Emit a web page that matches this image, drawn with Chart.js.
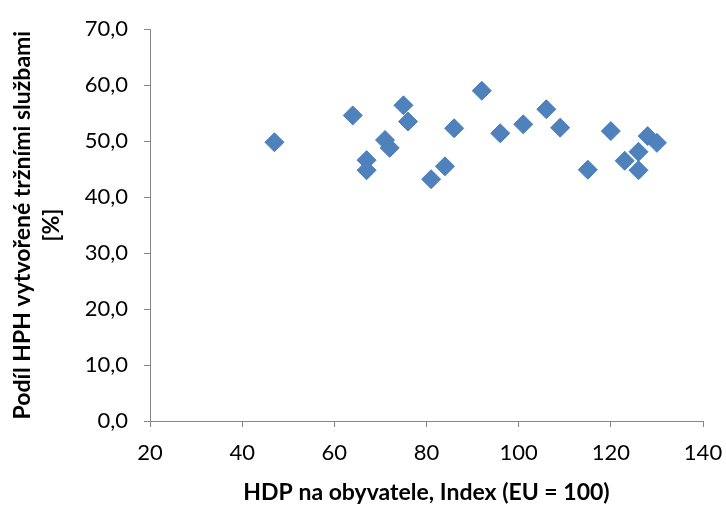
<!DOCTYPE html>
<html>
<head>
<meta charset="utf-8">
<script src="https://cdn.jsdelivr.net/npm/chart.js@4/dist/chart.umd.min.js"></script>
<style>
  html, body { margin: 0; padding: 0; background: #fff; }
</style>
</head>
<body>
<canvas id="myChart" width="726" height="509"></canvas>
<script>
// GDP per capita index (EU = 100) vs. share of market services in GVA [%]
const hdpIndex = [47, 64, 67, 67, 71, 72, 75, 76, 81, 84, 86, 92, 96, 101, 106, 109, 115, 120, 123, 126, 126, 128, 130];
const podilSluzeb = [49.8, 54.6, 46.6, 44.8, 50.2, 48.8, 56.4, 53.5, 43.2, 45.5, 52.3, 59.0, 51.4, 53.0, 55.7, 52.4, 44.9, 51.8, 46.5, 48.1, 44.8, 50.9, 49.7];

const xTitle = 'HDP na obyvatele, Index (EU = 100)';
const yTitle = ['Podíl HPH vytvořené tržními službami', '[%]'];

const points = hdpIndex.map((x, i) => ({ x: x, y: podilSluzeb[i] }));

const axisGrey = '#868686';
const fontFamily = 'Lato, "Open Sans", sans-serif';

const config = {
    type: 'scatter',
    data: {
        datasets: [{
            data: points,
            pointStyle: 'rectRot',
            radius: 9.5,
            hoverRadius: 9.5,
            backgroundColor: '#4F81BD',
            borderColor: '#4A7EBB',
            borderWidth: 1
        }]
    },
    options: {
        responsive: false,
        animation: false,
        layout: { padding: { top: 26, right: 23, left: 0, bottom: 0 } },
        plugins: {
            legend: { display: false },
            tooltip: { enabled: false }
        },
        scales: {
            x: {
                min: 20,
                max: 140,
                afterFit: (scale) => {
                    scale.height = 88;
                    // let the layout padding decide where the axis ends
                    scale.paddingLeft = 0;
                    scale.paddingRight = 0;
                },
                ticks: {
                    stepSize: 20,
                    color: '#000',
                    padding: 13,
                    font: { family: fontFamily, size: 22 }
                },
                grid: { drawOnChartArea: false, color: axisGrey, tickLength: 6 },
                border: { color: axisGrey, width: 1 },
                title: {
                    display: true,
                    text: xTitle,
                    color: '#000',
                    padding: { top: 0, bottom: 2 },
                    font: { family: fontFamily, size: 23, weight: 'bold', lineHeight: 1.25 }
                }
            },
            y: {
                min: 0,
                max: 70,
                afterFit: (scale) => { scale.width = 150; },
                ticks: {
                    stepSize: 10,
                    color: '#000',
                    padding: 16,
                    font: { family: fontFamily, size: 22 },
                    callback: (v) => v.toFixed(1).replace('.', ',')
                },
                grid: { drawOnChartArea: false, color: axisGrey, tickLength: 6 },
                border: { color: axisGrey, width: 1 },
                title: {
                    display: true,
                    text: yTitle,
                    color: '#000',
                    padding: { top: 8, bottom: 0 },
                    font: { family: fontFamily, size: 23, weight: 'bold', lineHeight: 1.25 }
                }
            }
        }
    }
};

const myChart = new Chart(document.getElementById('myChart'), config);
</script>
</body>
</html>
